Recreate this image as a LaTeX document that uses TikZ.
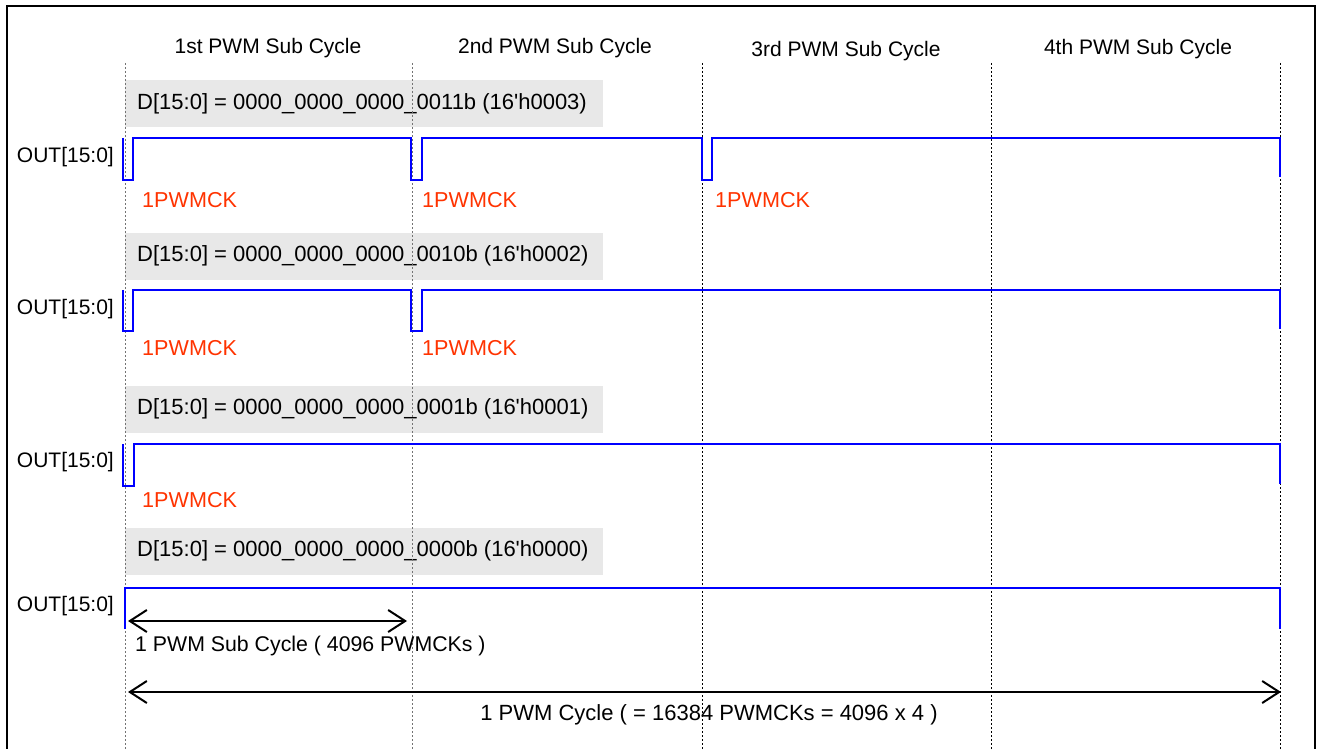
\documentclass[tikz,border=0pt]{standalone}
\usepackage{fontspec}
\setmainfont{Liberation Sans}
\usetikzlibrary{arrows.meta}
\definecolor{bandgray}{RGB}{232,232,232}
\definecolor{ckred}{RGB}{255,51,0}
\definecolor{wave}{RGB}{0,0,255}
\begin{document}
\begin{tikzpicture}[x=1pt,y=-1pt,
  lbl/.style={font=\fontsize{21}{25}\selectfont,inner sep=0pt},
  big/.style={font=\fontsize{22}{26}\selectfont,inner sep=0pt},
  ck/.style={font=\fontsize{21.6}{26}\selectfont,inner sep=0pt,text=ckred,anchor=west},
  sig/.style={color=wave,line width=2.5pt},
  tick/.style={line width=1pt,dash pattern=on 2pt off 2pt},
  dim/.style={line width=2pt,{Straight Barb[length=17pt,width=22pt]}-{Straight Barb[length=17pt,width=22pt]}}]
\useasboundingbox (0,0) rectangle (1319,749);
\draw [line width=2pt](7,749) -- (7,6) -- (1315,6) -- (1315,749);
% sub cycle titles
\node [lbl] (sub1) at (268,48) {1st PWM Sub Cycle};
\node [lbl] (sub2) at (555,48) {2nd PWM Sub Cycle};
\node [lbl] (sub3) at (846,51) {3rd PWM Sub Cycle};
\node [lbl] (sub4) at (1138,49) {4th PWM Sub Cycle};
% data words
\foreach \n/\y/\val/\hex in {a/104/0011/3, b/256/0010/2, c/409/0001/1, d/551/0000/0}{
  \fill [bandgray](125,\y-23.5) rectangle (603,\y+23.5);
  \node [big,anchor=west] (d\n) at (137,\y) {D[15:0] = 0000\_0000\_0000\_\val b (16\textquotesingle h000\hex)};
}
% sub cycle borders
\foreach \x in {125,412}
  \draw [tick,black!55](\x,63) -- (\x,749);
\foreach \x in {702,991,1280}
  \draw [tick](\x,63) -- (\x,749);
% outputs
\node [lbl,anchor=east] (outa) at (114,157) {OUT[15:0]};
\node [lbl,anchor=east] (outb) at (114,309) {OUT[15:0]};
\node [lbl,anchor=east] (outc) at (114,462) {OUT[15:0]};
\node [lbl,anchor=east] (outd) at (114,606) {OUT[15:0]};
\draw [sig](123,138) -- (123,180) -- (133,180) -- (133,138) -- (411,138) -- (411,180) -- (422,180) -- (422,138) -- (702,138) -- (702,180) -- (712,180) -- (712,138) -- (1280,138) -- (1280,177);
\draw [sig](123,290) -- (123,331) -- (133,331) -- (133,290) -- (411,290) -- (411,331) -- (422,331) -- (422,290) -- (1280,290) -- (1280,329);
\draw [sig](123,444) -- (123,486) -- (134,486) -- (134,444) -- (1280,444) -- (1280,484);
\draw [sig](125,629) -- (125,588) -- (1280,588) -- (1280,629);
\node [ck] (cka1) at (142,200) {1PWMCK};
\node [ck] (cka2) at (422,200) {1PWMCK};
\node [ck] (cka3) at (715,200) {1PWMCK};
\node [ck] (ckb1) at (142,348) {1PWMCK};
\node [ck] (ckb2) at (422,348) {1PWMCK};
\node [ck] (ckc1) at (142,500) {1PWMCK};
% lengths
\coordinate (s0) at (128,621);
\coordinate (s1) at (407,621);
\coordinate (f0) at (128,692);
\coordinate (f1) at (1281,692);
\draw [dim](s0) -- (s1);
\draw [dim](f0) -- (f1);
\node [lbl,anchor=west,font=\fontsize{21.3}{26}\selectfont] (sublen) at (135,646) {1 PWM Sub Cycle ( 4096 PWMCKs )};
\node [big] (fulllen) at (709,715) {1 PWM Cycle ( = 16384 PWMCKs = 4096 x 4 )};
\end{tikzpicture}
\end{document}
